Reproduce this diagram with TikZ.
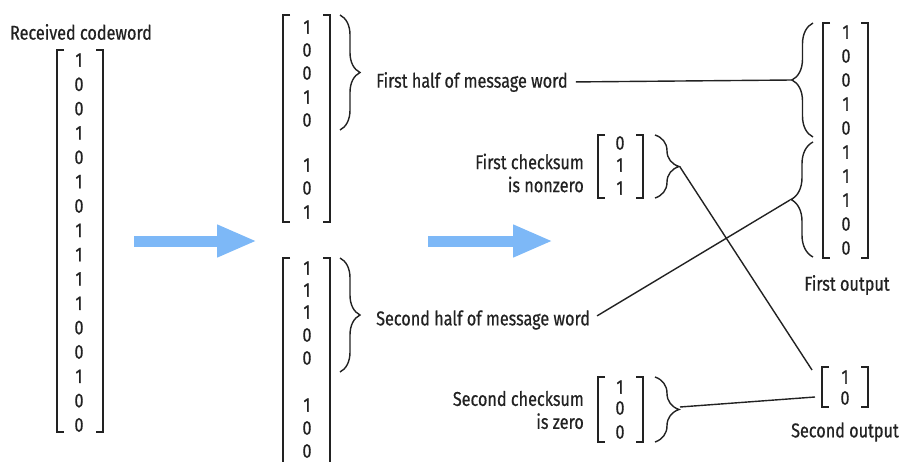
\documentclass[tikz,border=0pt]{standalone}
\usepackage{fontspec}
\setmainfont[FakeStretch=0.81,FakeBold=0.6]{Fira Sans}
\usetikzlibrary{decorations.pathreplacing,arrows.meta}
\definecolor{ink}{HTML}{222222}
\definecolor{arrowblue}{HTML}{7DB8F7}
\tikzset{
  digit/.style={font=\fontsize{20}{20}\selectfont, text=ink, inner sep=0pt},
  lbl/.style={font=\fontsize{20}{23}\selectfont, text=ink, inner sep=0pt},
  bracket/.style={draw=ink, line width=1.8pt},
  curly/.style={draw=ink, line width=1.4pt, decorate, decoration={brace, amplitude=#1}},
  wire/.style={draw=ink, line width=1.4pt},
  bigarrow/.style={draw=arrowblue, line width=11pt, -{Triangle[length=40pt,width=30pt]}},
}
\newcommand{\lbr}[3]{% x, ytop, ybot
  \draw[bracket] (#1+7,#2) -- (#1,#2) -- (#1,#3) -- (#1+7,#3);}
\newcommand{\rbr}[3]{%
  \draw[bracket] (#1-7,#2) -- (#1,#2) -- (#1,#3) -- (#1-7,#3);}
\begin{document}
\begin{tikzpicture}[x=1pt,y=-1pt]
\useasboundingbox (0,0) rectangle (900,461);
\clip (0,0) rectangle (900,461);

% ---------- received codeword ----------
\node[lbl] (rcvlbl) at (81,32) {Received codeword};
\lbr{57}{50}{432}
\rbr{103}{50}{432}
\foreach \v [count=\i from 0] in {1,0,0,1,0,1,0,1,1,1,1,0,0,1,0,0}
  \node[digit] (r\i) at (79,{60+24.33*\i}) {\v};

% ---------- arrows ----------
\coordinate (a1s) at (134,241); \coordinate (a1e) at (257,241);
\coordinate (a2s) at (428,241); \coordinate (a2e) at (553,241);
\draw[bigarrow] (a1s) -- (a1e);
\draw[bigarrow] (a2s) -- (a2e);

% ---------- middle top ----------
\lbr{283}{15}{222}
\rbr{330}{15}{222}
\foreach \v/\y [count=\i] in {1/27,0/50,0/73,1/97,0/120,1/165,0/188,1/212}
  \node[digit] (ma\i) at (307,\y) {\v};
\draw[curly=20pt] (340,15) -- (340,130);
\node[lbl, anchor=west] (firsthalf) at (376,82) {First half of message word};

% ---------- middle bottom ----------
\draw[bracket] (290,258) -- (283,258) -- (283,480);
\draw[bracket] (323,258) -- (330,258) -- (330,480);
\foreach \v/\y [count=\i] in {1/268,1/290,1/312,0/335,0/358,1/405,0/428,0/451}
  \node[digit] (mb\i) at (307,\y) {\v};
\draw[curly=20pt] (340,258) -- (340,372);
\node[lbl, anchor=west] (secondhalf) at (376,320) {Second half of message word};

% ---------- first checksum ----------
\lbr{598}{135}{198}
\rbr{643}{135}{198}
\foreach \v/\y [count=\i] in {0/143,1/165,1/188}
  \node[digit] (ca\i) at (620,\y) {\v};
\draw[curly=24pt] (655,135) -- (655,198);
\coordinate (tipC1) at (680,167);
\node[lbl, anchor=east, align=right] (c1lbl) at (584,173) {First checksum\\is nonzero};

% ---------- second checksum ----------
\lbr{598}{377}{442}
\rbr{643}{377}{442}
\foreach \v/\y [count=\i] in {1/387,0/408,0/432}
  \node[digit] (cb\i) at (620,\y) {\v};
\draw[curly=24pt] (655,377) -- (655,442);
\coordinate (tipC2) at (680,407);
\node[lbl, anchor=east, align=right] (c2lbl) at (584,410) {Second checksum\\is zero};

% ---------- first output ----------
\lbr{823}{23}{258}
\rbr{868}{23}{258}
\foreach \v [count=\i from 0] in {1,0,0,1,0,1,1,1,0,0}
  \node[digit] (o\i) at (846,{32+24*\i}) {\v};
\draw[curly=21pt] (813,137) -- (813,23);
\draw[curly=22pt] (813,257) -- (813,142);
\coordinate (tipO1) at (792,80);
\coordinate (tipO2) at (790,200);
\node[lbl] (out1lbl) at (847,285) {First output};

% ---------- second output ----------
\lbr{822}{367}{407}
\rbr{868}{367}{407}
\node[digit] (s1) at (845,377) {1};
\node[digit] (s2) at (845,398) {0};
\coordinate (s2in1) at (812,370);
\coordinate (s2in2) at (815,397);
\node[lbl] (out2lbl) at (845,432) {Second output};

% ---------- connectors ----------
\draw[wire, shorten <=8pt] (firsthalf.east) -- (tipO1);
\draw[wire, shorten <=8pt] (secondhalf.east) -- (tipO2);
\draw[wire] (tipC1) -- (s2in1);
\draw[wire] (tipC2) -- (s2in2);
\end{tikzpicture}
\end{document}
